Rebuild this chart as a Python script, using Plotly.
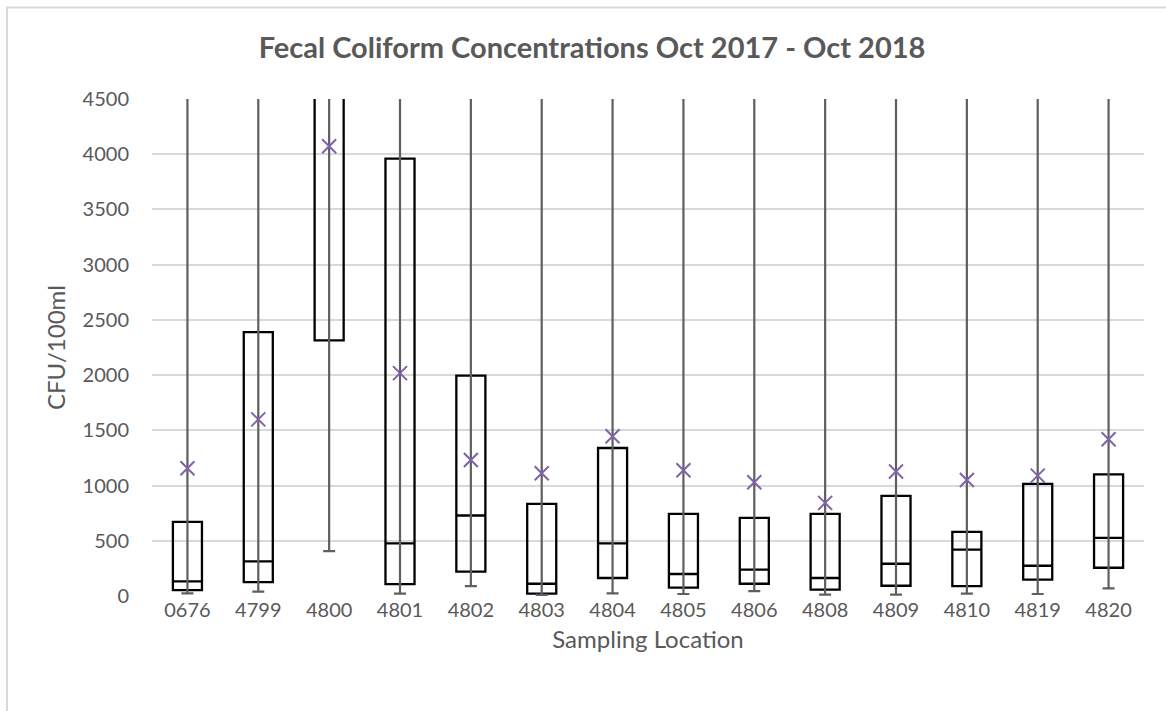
import plotly.graph_objects as go

# ---- data ----
locations = ["0676", "4799", "4800", "4801", "4802", "4803", "4804",
             "4805", "4806", "4808", "4809", "4810", "4819", "4820"]
whisker_min = [24, 39, 406, 21, 90, 10, 24, 18, 45, 12, 12, 21, 18, 69]
q1_values = [54, 126, 2315, 108, 220, 21, 163, 75, 111, 57, 93, 90, 148, 256]
median_values = [133, 313, 4800, 476, 729, 111, 476, 199, 238, 163, 292, 419, 274, 527]
q3_values = [671, 2390, 6500, 3961, 1995, 834, 1340, 744, 708, 744, 906, 581, 1015, 1102]
whisker_max = [9000, 9000, 12000, 11000, 9000, 9000, 9000, 9000, 9000, 9000, 9000, 9000, 9000, 9000]
mean_values = [1157, 1599, 4072, 2018, 1232, 1111, 1446, 1139, 1030, 843, 1128, 1050, 1090, 1420]

y_ticks = [0, 500, 1000, 1500, 2000, 2500, 3000, 3500, 4000, 4500]

TEXT = "#595959"
GRID = "#d9d9d9"
FONT = "Lato"

fig = go.Figure()

# whisker lines (through the box) with caps, via error bars around the median
fig.add_trace(go.Scatter(
    x=locations, y=median_values, mode="markers",
    marker=dict(size=0.1, color="rgba(0,0,0,0)"),
    error_y=dict(type="data", symmetric=False,
                 array=[mx - m for mx, m in zip(whisker_max, median_values)],
                 arrayminus=[m - mn for m, mn in zip(median_values, whisker_min)],
                 color="#5f5f5f", thickness=2.2, width=6),
    hoverinfo="skip", showlegend=False,
))

# boxes
fig.add_trace(go.Box(
    x=locations, q1=q1_values, median=median_values, q3=q3_values,
    lowerfence=q1_values, upperfence=q3_values,
    width=0.41, whiskerwidth=0,
    fillcolor="rgba(0,0,0,0)", line=dict(color="black", width=2.3),
    boxpoints=False, showlegend=False,
))

# means
fig.add_trace(go.Scatter(
    x=locations, y=mean_values, mode="markers",
    marker=dict(symbol="x-thin", size=14, line=dict(color="#7F63A8", width=2)),
    showlegend=False,
))

fig.update_layout(
    width=1166, height=711,
    margin=dict(l=152, r=22, t=99, b=115, autoexpand=False),
    paper_bgcolor="white", plot_bgcolor="white",
    title=dict(text="<b>Fecal Coliform Concentrations Oct 2017 - Oct 2018</b>",
               x=592 / 1166, xref="container", y=1 - 48 / 711, yref="container",
               xanchor="center", yanchor="middle",
               font=dict(family=FONT, size=29, color=TEXT)),
    font=dict(family=FONT, color=TEXT),
    shapes=[dict(type="rect", xref="paper", yref="paper",
                 x0=(7 - 152) / 992, x1=(1180 - 152) / 992,
                 y0=(596 - 730) / 497, y1=(596 - 7.5) / 497,
                 line=dict(color=GRID, width=2), layer="above")],
)

fig.update_xaxes(
    type="category", categoryorder="array", categoryarray=locations,
    range=[-0.5, len(locations) - 0.5],
    showline=False, showgrid=False, zeroline=False, ticks="",
    tickfont=dict(family=FONT, size=20, color=TEXT),
    title=dict(text="Sampling Location", standoff=11,
               font=dict(family=FONT, size=24, color=TEXT)),
    automargin=False,
)
fig.update_yaxes(
    range=[0, 4500], tickvals=y_ticks, ticktext=[str(v) for v in y_ticks],
    showgrid=True, gridcolor=GRID, gridwidth=1.6,
    zeroline=False, showline=False, ticks="",
    ticklabelstandoff=22,
    tickfont=dict(family=FONT, size=20, color=TEXT),
    title=dict(text="CFU/100ml", standoff=10,
               font=dict(family=FONT, size=24, color=TEXT)),
    automargin=False,
)

fig.write_html("out.html", config={"displayModeBar": False},
               post_script="document.body.style.margin='0';")
